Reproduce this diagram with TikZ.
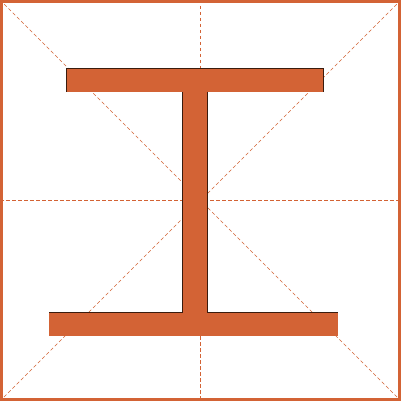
\documentclass[tikz,border=0pt]{standalone}
\definecolor{gorange}{HTML}{D36335}
\definecolor{gdark}{HTML}{3A1C0E}
\begin{document}
\begin{tikzpicture}[x=1pt,y=-1pt,
  guide/.style={draw=gorange,line width=0.6pt,dash pattern=on 3.5pt off 2.5pt},
  edge/.style={draw=gdark,line width=0.9pt,line cap=butt}]
\useasboundingbox (0,0) rectangle (401,401);
\fill[white] (0,0) rectangle (401,401);
% guide lines
\draw[guide] (200.5,0) -- (200.5,401);
\draw[guide] (0,200.5) -- (401,200.5);
\draw[guide] (0,0) -- (401,401);
\draw[guide] (401,0) -- (0,401);
% frame
\draw[draw=gorange,line width=3pt] (1.5,1.5) rectangle (399.5,399.5);
% glyph fill
\fill[gorange] (66,68) rectangle (324,92);
\fill[gorange] (182,91) rectangle (207.5,313);
\fill[gorange] (49,312) rectangle (338,336);
% dark edges
\draw[edge] (66.4,92) -- (66.4,68.4) -- (323.6,68.4) -- (323.6,92);
\draw[edge] (182.4,92) -- (182.4,312.4) -- (49,312.4);
\draw[edge] (207.1,92) -- (207.1,312.4) -- (338,312.4);
\end{tikzpicture}
\end{document}
